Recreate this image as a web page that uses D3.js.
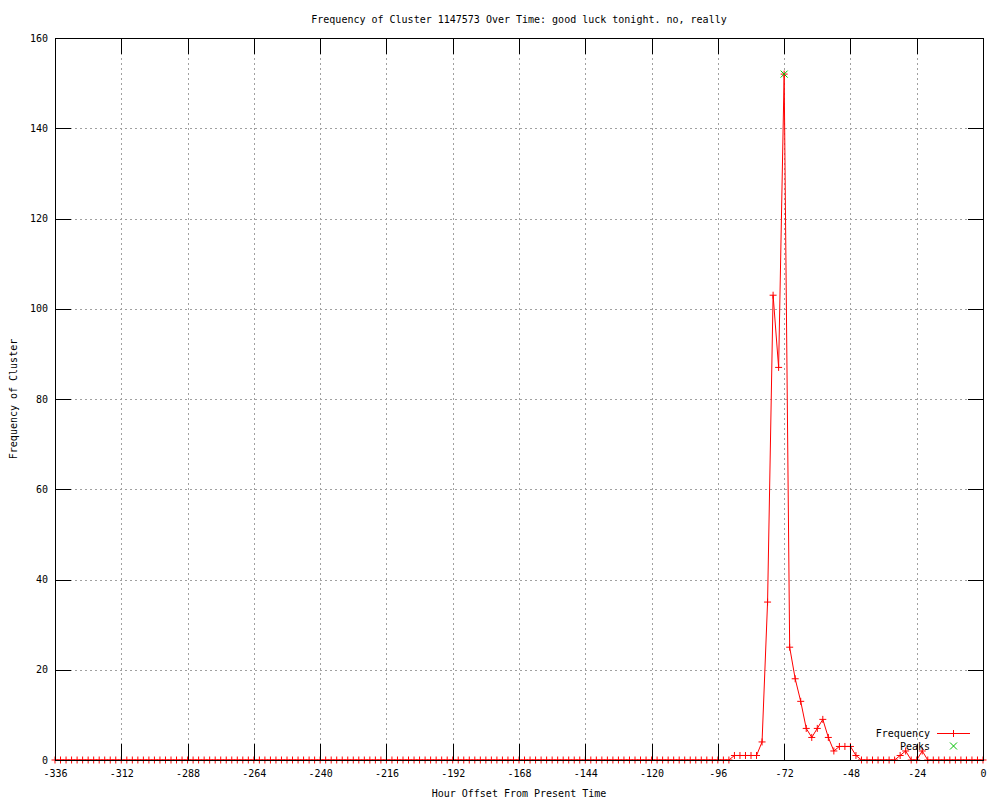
<!DOCTYPE html>
<html>
<head>
<meta charset="utf-8">
<script src="https://cdn.jsdelivr.net/npm/d3@7"></script>
<style>
  body { margin: 0; background: #fff; }
  svg text { font-family: "DejaVu Sans Mono", monospace; font-size: 10px; fill: #000; }
</style>
</head>
<body>
<div id="chart"></div>
<script>
/* DATA */
// one sample every 2 hours, -336 .. 0
const hours = d3.range(-336, 1, 2);
const frequency = [
  0, 0, 0, 0, 0, 0, 0, 0, 0, 0, 0, 0,
  0, 0, 0, 0, 0, 0, 0, 0, 0, 0, 0, 0,
  0, 0, 0, 0, 0, 0, 0, 0, 0, 0, 0, 0,
  0, 0, 0, 0, 0, 0, 0, 0, 0, 0, 0, 0,
  0, 0, 0, 0, 0, 0, 0, 0, 0, 0, 0, 0,
  0, 0, 0, 0, 0, 0, 0, 0, 0, 0, 0, 0,
  0, 0, 0, 0, 0, 0, 0, 0, 0, 0, 0, 0,
  0, 0, 0, 0, 0, 0, 0, 0, 0, 0, 0, 0,
  0, 0, 0, 0, 0, 0, 0, 0, 0, 0, 0, 0,
  0, 0, 0, 0, 0, 0, 0, 0, 0, 0, 0, 0,
  0, 0, 0,
  1, 1, 1, 1, 1, 4, 35, 103, 87, 152, 25, 18,
  13, 7, 5, 7, 9, 5, 2, 3, 3, 3, 1,
  0, 0, 0, 0, 0, 0, 0,
  1, 2, 0, 0, 2,
  0, 0, 0, 0, 0, 0, 0, 0, 0, 0, 0
];
const peakHours = [-72];
const peakValues = [152];
const xTicks = [-336, -312, -288, -264, -240, -216, -192, -168, -144, -120, -96, -72, -48, -24, 0];
const yTicks = [0, 20, 40, 60, 80, 100, 120, 140, 160];

const titleText = "Frequency of Cluster 1147573 Over Time: good luck tonight. no, really";

/* CONSTANTS */
const width = 1000,
  height = 800,
  margin = { top: 38, bottom: 40, left: 55, right: 17 },
  ticLen = 16,
  mark = 3.5;

const data = hours.map((h, i) => ({ h: h, v: frequency[i] }));
const peaks = peakHours.map((h, i) => ({ h: h, v: peakValues[i] }));

const xScale = d3.scaleLinear()
  .domain([-336, 0])
  .range([margin.left, width - margin.right]);

const yScale = d3.scaleLinear()
  .domain([0, 160])
  .range([height - margin.bottom, margin.top]);

const svg = d3.select("#chart")
  .append("svg")
  .attr("width", width)
  .attr("height", height);

const x0 = xScale.range()[0], x1 = xScale.range()[1];
const y0 = yScale.range()[0], y1 = yScale.range()[1];
const px = v => Math.round(xScale(v));
const py = v => Math.round(yScale(v));

// grid
const grid = svg.append("g")
  .attr("stroke", "#a0a0a0")
  .attr("stroke-dasharray", "2,3")
  .attr("shape-rendering", "crispEdges");
grid.selectAll("line.gx")
  .data(xTicks.slice(1, -1))
  .join("line")
  .attr("class", "gx")
  .attr("x1", d => px(d) + 0.5)
  .attr("x2", d => px(d) + 0.5)
  .attr("y1", y0)
  .attr("y2", y1);
grid.selectAll("line.gy")
  .data(yTicks.slice(1, -1))
  .join("line")
  .attr("class", "gy")
  .attr("y1", d => py(d) + 0.5)
  .attr("y2", d => py(d) + 0.5)
  .attr("x1", x0)
  .attr("x2", x1);

// tick labels via d3 axes (tick lines drawn separately below)
const xAxis = d3.axisBottom(xScale).tickValues(xTicks).tickSize(0).tickPadding(10)
  .tickFormat(d => String(d));
const yAxis = d3.axisLeft(yScale).tickValues(yTicks).tickSize(0).tickPadding(7);

function styleAxis(g) {
  g.select(".domain").remove();
  g.selectAll("line").remove();
  g.selectAll("text").attr("fill", "#000");
  g.attr("font-family", null).attr("font-size", null);
}

svg.append("g").attr("transform", `translate(0,${y0})`).call(xAxis).call(styleAxis);
svg.append("g").attr("transform", `translate(${x0},0)`).call(yAxis).call(styleAxis);

// frequency line
const line = d3.line()
  .x(d => xScale(d.h))
  .y(d => yScale(d.v));

svg.append("path")
  .datum(data)
  .attr("fill", "none")
  .attr("stroke", "#ff0000")
  .attr("stroke-width", 1)
  .attr("d", line);

// marker shapes
const plus = (x, y) => `M${x - mark},${y}H${x + mark}M${x},${y - mark}V${y + mark}`;
const cross = (x, y) => `M${x - mark},${y - mark}L${x + mark},${y + mark}M${x - mark},${y + mark}L${x + mark},${y - mark}`;

svg.append("g")
  .selectAll("path")
  .data(data)
  .join("path")
  .attr("d", d => plus(xScale(d.h), yScale(d.v)))
  .attr("stroke", "#ff0000")
  .attr("fill", "none");

// peaks
svg.append("g")
  .selectAll("path")
  .data(peaks)
  .join("path")
  .attr("d", d => cross(xScale(d.h), yScale(d.v)))
  .attr("stroke", "#00c000")
  .attr("fill", "none");

// border
const frame = svg.append("g").attr("fill", "#000");
frame.append("rect").attr("x", x0).attr("y", y1).attr("width", x1 - x0 + 1).attr("height", 1);
frame.append("rect").attr("x", x0).attr("y", y0).attr("width", x1 - x0 + 1).attr("height", 1);
frame.append("rect").attr("x", x0).attr("y", y1).attr("width", 1).attr("height", y0 - y1 + 1);
frame.append("rect").attr("x", x1).attr("y", y1).attr("width", 1).attr("height", y0 - y1 + 1);

// tick marks pointing inwards on all four sides
frame.selectAll("rect.tb")
  .data(xTicks)
  .join("rect")
  .attr("class", "tb")
  .attr("x", px).attr("y", y0 - ticLen)
  .attr("width", 1).attr("height", ticLen);
frame.selectAll("rect.tt")
  .data(xTicks)
  .join("rect")
  .attr("class", "tt")
  .attr("x", px).attr("y", y1)
  .attr("width", 1).attr("height", ticLen);
frame.selectAll("rect.tl")
  .data(yTicks)
  .join("rect")
  .attr("class", "tl")
  .attr("x", x0).attr("y", py)
  .attr("width", ticLen).attr("height", 1);
frame.selectAll("rect.tr")
  .data(yTicks)
  .join("rect")
  .attr("class", "tr")
  .attr("x", x1 - ticLen + 1).attr("y", py)
  .attr("width", ticLen).attr("height", 1);

// legend
const legend = svg.append("g");
legend.append("text").attr("x", 930).attr("y", 733).attr("dy", "0.35em")
  .attr("text-anchor", "end").text("Frequency");
legend.append("rect").attr("x", 937).attr("y", 733).attr("width", 33).attr("height", 1)
  .attr("fill", "#ff0000");
legend.append("rect").attr("x", 953).attr("y", 730).attr("width", 1).attr("height", 7)
  .attr("fill", "#ff0000");
legend.append("text").attr("x", 930).attr("y", 746).attr("dy", "0.35em")
  .attr("text-anchor", "end").text("Peaks");
legend.append("path").attr("d", cross(953.5, 746)).attr("stroke", "#00c000").attr("fill", "none");

// titles
svg.append("text")
  .attr("x", (x0 + x1) / 2)
  .attr("y", 19)
  .attr("dy", "0.35em")
  .attr("text-anchor", "middle")
  .text(titleText);

svg.append("text")
  .attr("x", (x0 + x1) / 2)
  .attr("y", 793)
  .attr("dy", "0.35em")
  .attr("text-anchor", "middle")
  .text("Hour Offset From Present Time");

svg.append("text")
  .attr("transform", `translate(13,${(y0 + y1) / 2}) rotate(-90)`)
  .attr("dy", "0.35em")
  .attr("text-anchor", "middle")
  .text("Frequency of Cluster");
</script>
</body>
</html>
